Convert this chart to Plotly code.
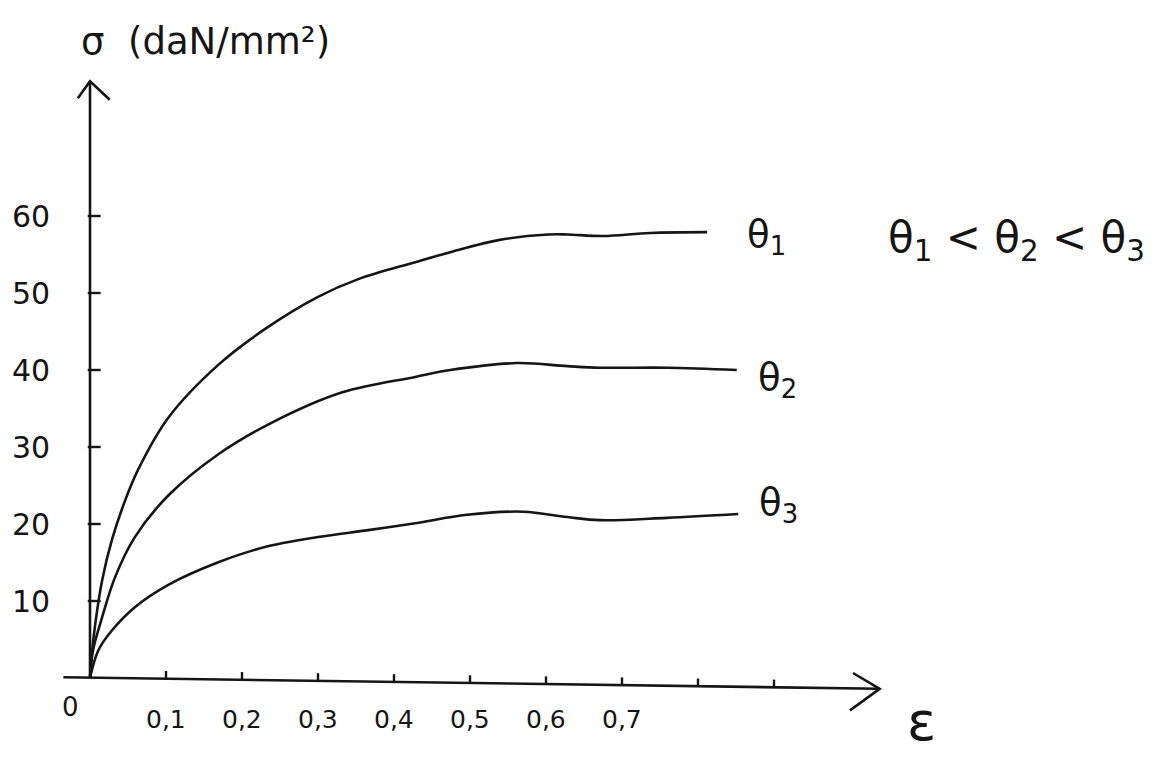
import plotly.graph_objects as go

# ---- data ----
eps_t1 = [0, 0.002, 0.007, 0.016, 0.029, 0.046, 0.063, 0.103, 0.168, 0.230, 0.300, 0.353, 0.428, 0.474, 0.539, 0.603, 0.628, 0.675, 0.737, 0.812]
sig_t1 = [0, 2.7, 7.1, 12.7, 18.0, 23.0, 27.0, 33.8, 40.6, 45.3, 49.5, 51.8, 54.0, 55.3, 56.9, 57.6, 57.6, 57.4, 57.8, 57.9]

eps_t2 = [0, 0.004, 0.016, 0.033, 0.059, 0.103, 0.168, 0.240, 0.332, 0.428, 0.474, 0.562, 0.628, 0.671, 0.759, 0.851]
sig_t2 = [0, 3.6, 7.9, 13.1, 18.3, 23.7, 29.0, 33.2, 37.1, 39.1, 40.0, 40.9, 40.5, 40.3, 40.3, 40.0]

eps_t3 = [0, 0.011, 0.029, 0.059, 0.103, 0.168, 0.230, 0.300, 0.366, 0.428, 0.496, 0.570, 0.628, 0.671, 0.759, 0.853]
sig_t3 = [0, 3.6, 6.2, 9.2, 12.1, 15.0, 17.0, 18.3, 19.2, 20.1, 21.2, 21.6, 20.9, 20.5, 20.8, 21.3]

series_names = ["θ<sub>1</sub>", "θ<sub>2</sub>", "θ<sub>3</sub>"]
y_ticks = [10, 20, 30, 40, 50, 60]
y_tick_labels = ["10", "20", "30", "40", "50", "60"]
x_ticks = [0.1, 0.2, 0.3, 0.4, 0.5, 0.6, 0.7, 0.8, 0.9]
x_tick_labels = ["0,1", "0,2", "0,3", "0,4", "0,5", "0,6", "0,7", "", ""]

INK = "#151515"
FONT = "DejaVu Sans"

W, H = 1165, 759
L, R, T, B = 20, 20, 20, 20
# pixel mapping: x px = 90 + 760*eps ; y px = 678 - 7.7*sigma
xa = (L - 90) / 760
xb = xa + (W - L - R) / 760
yb = (678 - (H - B)) / 7.7
yt = (678 - T) / 7.7

fig = go.Figure()

for ex, sy in [(eps_t1, sig_t1), (eps_t2, sig_t2), (eps_t3, sig_t3)]:
    fig.add_trace(go.Scatter(x=ex, y=sy, mode="lines",
                             line=dict(color=INK, width=2.6, shape="spline", smoothing=1.0),
                             hoverinfo="skip", showlegend=False))

# ---- hand-drawn style axes ----
y_top = 77.5
x_end = 1.039
x_slope_end = -1.4   # axis drifts slightly downward


def x_axis_y(e):
    return 0.1 + (x_slope_end - 0.1) * (e - (-0.035)) / (x_end + 0.035)


shapes = []
line_style = dict(color=INK, width=2.6)
# y axis
shapes.append(dict(type="line", xref="x", yref="y", x0=0, y0=0, x1=0, y1=y_top, line=line_style))
shapes.append(dict(type="path", xref="x", yref="y",
                   path=f"M -0.016 75.3 L 0 {y_top} L 0.026 75.1", line=line_style))
# x axis
shapes.append(dict(type="line", xref="x", yref="y", x0=-0.035, y0=x_axis_y(-0.035),
                   x1=x_end, y1=x_axis_y(x_end), line=line_style))
shapes.append(dict(type="path", xref="x", yref="y",
                   path=f"M 1.004 0.65 L {x_end} {x_slope_end} L 1.0 -4.2", line=line_style))
# ticks
for v in y_ticks:
    shapes.append(dict(type="line", xref="x", yref="y", x0=-0.003, y0=v, x1=0.014, y1=v,
                       line=dict(color=INK, width=2.4)))
for v in x_ticks:
    b = x_axis_y(v)
    shapes.append(dict(type="line", xref="x", yref="y", x0=v, y0=b, x1=v, y1=b + 1.0,
                       line=dict(color=INK, width=2.4)))

ann = []
for v, t in zip(y_ticks, y_tick_labels):
    ann.append(dict(x=-0.077, y=v, xref="x", yref="y", text=t, showarrow=False,
                    xanchor="center", yanchor="middle", font=dict(size=30, color=INK, family=FONT)))
for v, t in zip(x_ticks, x_tick_labels):
    if t:
        ann.append(dict(x=v, y=-5.4, xref="x", yref="y", text=t, showarrow=False,
                        xanchor="center", yanchor="middle", font=dict(size=25, color=INK, family=FONT)))
ann.append(dict(x=-0.026, y=-3.8, xref="x", yref="y", text="0", showarrow=False,
                xanchor="center", yanchor="middle", font=dict(size=26, color=INK, family=FONT)))
ann.append(dict(x=1.094, y=-5.6, xref="x", yref="y", text="ε", showarrow=False,
                xanchor="center", yanchor="middle", font=dict(size=54, color=INK, family=FONT)))
ann.append(dict(x=-0.014, y=82.6, xref="x", yref="y", text="σ  (daN/mm²)", showarrow=False,
                xanchor="left", yanchor="middle", font=dict(size=37, color=INK, family=FONT)))

# curve end labels
label_pos = [(eps_t1[-1] + 0.05, sig_t1[-1] - 0.6),
             (eps_t2[-1] + 0.025, sig_t2[-1] - 1.3),
             (eps_t3[-1] + 0.025, sig_t3[-1] + 1.2)]
for (lx, ly), name in zip(label_pos, series_names):
    ann.append(dict(x=lx, y=ly, xref="x", yref="y", text=name, showarrow=False,
                    xanchor="left", yanchor="middle", font=dict(size=37, color=INK, family=FONT)))

ann.append(dict(x=(886 - 90) / 760, y=(678 - 240) / 7.7, xref="x", yref="y",
                text=f"{series_names[0]} < {series_names[1]} < {series_names[2]}", showarrow=False,
                xanchor="left", yanchor="middle", font=dict(size=42, color=INK, family=FONT)))

fig.update_layout(
    width=W, height=H,
    margin=dict(l=L, r=R, t=T, b=B),
    paper_bgcolor="white", plot_bgcolor="white",
    xaxis=dict(range=[xa, xb], visible=False, fixedrange=True),
    yaxis=dict(range=[yb, yt], visible=False, fixedrange=True),
    shapes=shapes, annotations=ann, showlegend=False,
)

fig.write_html("out.html", config={"displayModeBar": False},
               post_script="document.body.style.margin='0';document.body.style.overflow='hidden';")
